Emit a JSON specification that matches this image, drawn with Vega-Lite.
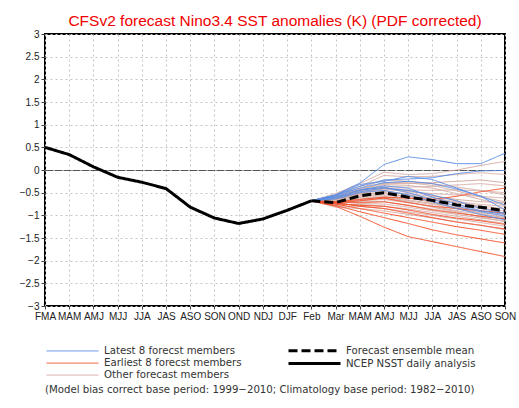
{
  "$schema": "https://vega.github.io/schema/vega-lite/v6.json",
  "width": 460,
  "height": 272,
  "autosize": {"type": "none"},
  "padding": {"left": 45, "top": 34, "right": 14, "bottom": 102},
  "background": "#ffffff",
  "title": {
    "text": "CFSv2 forecast Nino3.4 SST anomalies (K) (PDF corrected)",
    "font": "Liberation Sans",
    "fontSize": 15.5,
    "fontWeight": "normal",
    "color": "#f00000",
    "anchor": "middle",
    "offset": 0
  },
  "config": {
    "view": {"stroke": "#000000", "strokeWidth": 2},
    "axis": {"domain": false, "title": null}
  },
  "datasets": {
    "obs": [
      {"g":"N","s":0,"m":0,"v":0.50},{"g":"N","s":0,"m":1,"v":0.34},{"g":"N","s":0,"m":2,"v":0.07},{"g":"N","s":0,"m":3,"v":-0.16},
      {"g":"N","s":0,"m":4,"v":-0.27},{"g":"N","s":0,"m":5,"v":-0.41},{"g":"N","s":0,"m":6,"v":-0.82},{"g":"N","s":0,"m":7,"v":-1.06},
      {"g":"N","s":0,"m":8,"v":-1.18},{"g":"N","s":0,"m":9,"v":-1.08},{"g":"N","s":0,"m":10,"v":-0.89},{"g":"N","s":0,"m":11,"v":-0.68}
    ],
    "mean": [
      {"g":"M","s":0,"m":11,"v":-0.68},{"g":"M","s":0,"m":12,"v":-0.72},{"g":"M","s":0,"m":13,"v":-0.57},{"g":"M","s":0,"m":14,"v":-0.50},
      {"g":"M","s":0,"m":15,"v":-0.60},{"g":"M","s":0,"m":16,"v":-0.67},{"g":"M","s":0,"m":17,"v":-0.77},{"g":"M","s":0,"m":18,"v":-0.82},{"g":"M","s":0,"m":19,"v":-0.90}
    ],
    "lat": [
      {"g":"L","s":1,"m":11,"v":-0.68},{"g":"L","s":1,"m":12,"v":-0.55},{"g":"L","s":1,"m":13,"v":-0.29},{"g":"L","s":1,"m":14,"v":0.12},{"g":"L","s":1,"m":15,"v":0.29},{"g":"L","s":1,"m":16,"v":0.23},{"g":"L","s":1,"m":17,"v":0.14},{"g":"L","s":1,"m":18,"v":0.14},{"g":"L","s":1,"m":19,"v":0.37},
      {"g":"L","s":2,"m":11,"v":-0.68},{"g":"L","s":2,"m":12,"v":-0.56},{"g":"L","s":2,"m":13,"v":-0.36},{"g":"L","s":2,"m":14,"v":-0.22},{"g":"L","s":2,"m":15,"v":-0.20},{"g":"L","s":2,"m":16,"v":-0.17},{"g":"L","s":2,"m":17,"v":-0.08},{"g":"L","s":2,"m":18,"v":-0.02},{"g":"L","s":2,"m":19,"v":-0.01},
      {"g":"L","s":3,"m":11,"v":-0.68},{"g":"L","s":3,"m":12,"v":-0.55},{"g":"L","s":3,"m":13,"v":-0.32},{"g":"L","s":3,"m":14,"v":-0.25},{"g":"L","s":3,"m":15,"v":-0.14},{"g":"L","s":3,"m":16,"v":-0.21},{"g":"L","s":3,"m":17,"v":-0.40},{"g":"L","s":3,"m":18,"v":-0.58},{"g":"L","s":3,"m":19,"v":-0.77},
      {"g":"L","s":4,"m":11,"v":-0.68},{"g":"L","s":4,"m":12,"v":-0.56},{"g":"L","s":4,"m":13,"v":-0.40},{"g":"L","s":4,"m":14,"v":-0.28},{"g":"L","s":4,"m":15,"v":-0.25},{"g":"L","s":4,"m":16,"v":-0.30},{"g":"L","s":4,"m":17,"v":-0.42},{"g":"L","s":4,"m":18,"v":-0.58},{"g":"L","s":4,"m":19,"v":-0.88},
      {"g":"L","s":5,"m":11,"v":-0.68},{"g":"L","s":5,"m":12,"v":-0.62},{"g":"L","s":5,"m":13,"v":-0.48},{"g":"L","s":5,"m":14,"v":-0.40},{"g":"L","s":5,"m":15,"v":-0.45},{"g":"L","s":5,"m":16,"v":-0.55},{"g":"L","s":5,"m":17,"v":-0.68},{"g":"L","s":5,"m":18,"v":-0.85},{"g":"L","s":5,"m":19,"v":-0.95},
      {"g":"L","s":6,"m":11,"v":-0.68},{"g":"L","s":6,"m":12,"v":-0.60},{"g":"L","s":6,"m":13,"v":-0.45},{"g":"L","s":6,"m":14,"v":-0.38},{"g":"L","s":6,"m":15,"v":-0.50},{"g":"L","s":6,"m":16,"v":-0.65},{"g":"L","s":6,"m":17,"v":-0.80},{"g":"L","s":6,"m":18,"v":-0.92},{"g":"L","s":6,"m":19,"v":-1.02},
      {"g":"L","s":7,"m":11,"v":-0.68},{"g":"L","s":7,"m":12,"v":-0.64},{"g":"L","s":7,"m":13,"v":-0.50},{"g":"L","s":7,"m":14,"v":-0.45},{"g":"L","s":7,"m":15,"v":-0.55},{"g":"L","s":7,"m":16,"v":-0.70},{"g":"L","s":7,"m":17,"v":-0.85},{"g":"L","s":7,"m":18,"v":-0.98},{"g":"L","s":7,"m":19,"v":-1.10},
      {"g":"L","s":8,"m":11,"v":-0.68},{"g":"L","s":8,"m":12,"v":-0.58},{"g":"L","s":8,"m":13,"v":-0.44},{"g":"L","s":8,"m":14,"v":-0.35},{"g":"L","s":8,"m":15,"v":-0.40},{"g":"L","s":8,"m":16,"v":-0.60},{"g":"L","s":8,"m":17,"v":-0.75},{"g":"L","s":8,"m":18,"v":-0.90},{"g":"L","s":8,"m":19,"v":-0.98}
    ],
    "ear": [
      {"g":"E","s":1,"m":11,"v":-0.68},{"g":"E","s":1,"m":12,"v":-0.80},{"g":"E","s":1,"m":13,"v":-1.02},{"g":"E","s":1,"m":14,"v":-1.26},{"g":"E","s":1,"m":15,"v":-1.47},{"g":"E","s":1,"m":16,"v":-1.58},{"g":"E","s":1,"m":17,"v":-1.69},{"g":"E","s":1,"m":18,"v":-1.80},{"g":"E","s":1,"m":19,"v":-1.91},
      {"g":"E","s":2,"m":11,"v":-0.68},{"g":"E","s":2,"m":12,"v":-0.78},{"g":"E","s":2,"m":13,"v":-0.92},{"g":"E","s":2,"m":14,"v":-1.05},{"g":"E","s":2,"m":15,"v":-1.18},{"g":"E","s":2,"m":16,"v":-1.32},{"g":"E","s":2,"m":17,"v":-1.43},{"g":"E","s":2,"m":18,"v":-1.52},{"g":"E","s":2,"m":19,"v":-1.61},
      {"g":"E","s":3,"m":11,"v":-0.68},{"g":"E","s":3,"m":12,"v":-0.75},{"g":"E","s":3,"m":13,"v":-0.85},{"g":"E","s":3,"m":14,"v":-0.95},{"g":"E","s":3,"m":15,"v":-1.05},{"g":"E","s":3,"m":16,"v":-1.15},{"g":"E","s":3,"m":17,"v":-1.25},{"g":"E","s":3,"m":18,"v":-1.33},{"g":"E","s":3,"m":19,"v":-1.42},
      {"g":"E","s":4,"m":11,"v":-0.68},{"g":"E","s":4,"m":12,"v":-0.72},{"g":"E","s":4,"m":13,"v":-0.80},{"g":"E","s":4,"m":14,"v":-0.85},{"g":"E","s":4,"m":15,"v":-0.95},{"g":"E","s":4,"m":16,"v":-1.05},{"g":"E","s":4,"m":17,"v":-1.15},{"g":"E","s":4,"m":18,"v":-1.22},{"g":"E","s":4,"m":19,"v":-1.30},
      {"g":"E","s":5,"m":11,"v":-0.68},{"g":"E","s":5,"m":12,"v":-0.74},{"g":"E","s":5,"m":13,"v":-0.78},{"g":"E","s":5,"m":14,"v":-0.80},{"g":"E","s":5,"m":15,"v":-0.88},{"g":"E","s":5,"m":16,"v":-0.98},{"g":"E","s":5,"m":17,"v":-1.06},{"g":"E","s":5,"m":18,"v":-1.12},{"g":"E","s":5,"m":19,"v":-1.20},
      {"g":"E","s":6,"m":11,"v":-0.68},{"g":"E","s":6,"m":12,"v":-0.70},{"g":"E","s":6,"m":13,"v":-0.72},{"g":"E","s":6,"m":14,"v":-0.70},{"g":"E","s":6,"m":15,"v":-0.78},{"g":"E","s":6,"m":16,"v":-0.88},{"g":"E","s":6,"m":17,"v":-0.95},{"g":"E","s":6,"m":18,"v":-1.02},{"g":"E","s":6,"m":19,"v":-1.08},
      {"g":"E","s":7,"m":11,"v":-0.68},{"g":"E","s":7,"m":12,"v":-0.72},{"g":"E","s":7,"m":13,"v":-0.68},{"g":"E","s":7,"m":14,"v":-0.62},{"g":"E","s":7,"m":15,"v":-0.72},{"g":"E","s":7,"m":16,"v":-0.80},{"g":"E","s":7,"m":17,"v":-0.85},{"g":"E","s":7,"m":18,"v":-0.90},{"g":"E","s":7,"m":19,"v":-0.95},
      {"g":"E","s":8,"m":11,"v":-0.68},{"g":"E","s":8,"m":12,"v":-0.70},{"g":"E","s":8,"m":13,"v":-0.65},{"g":"E","s":8,"m":14,"v":-0.60},{"g":"E","s":8,"m":15,"v":-0.62},{"g":"E","s":8,"m":16,"v":-0.65},{"g":"E","s":8,"m":17,"v":-0.58},{"g":"E","s":8,"m":18,"v":-0.48},{"g":"E","s":8,"m":19,"v":-0.40}
    ],
    "oth": [
      {"g":"O","s":1,"m":11,"v":-0.68},{"g":"O","s":1,"m":12,"v":-0.52},{"g":"O","s":1,"m":13,"v":-0.30},{"g":"O","s":1,"m":14,"v":-0.05},{"g":"O","s":1,"m":15,"v":-0.10},{"g":"O","s":1,"m":16,"v":-0.08},{"g":"O","s":1,"m":17,"v":0.00},{"g":"O","s":1,"m":18,"v":0.10},{"g":"O","s":1,"m":19,"v":0.19},
      {"g":"O","s":2,"m":11,"v":-0.68},{"g":"O","s":2,"m":12,"v":-0.55},{"g":"O","s":2,"m":13,"v":-0.36},{"g":"O","s":2,"m":14,"v":-0.12},{"g":"O","s":2,"m":15,"v":-0.15},{"g":"O","s":2,"m":16,"v":-0.14},{"g":"O","s":2,"m":17,"v":-0.10},{"g":"O","s":2,"m":18,"v":-0.06},{"g":"O","s":2,"m":19,"v":-0.10},
      {"g":"O","s":3,"m":11,"v":-0.68},{"g":"O","s":3,"m":12,"v":-0.60},{"g":"O","s":3,"m":13,"v":-0.42},{"g":"O","s":3,"m":14,"v":-0.30},{"g":"O","s":3,"m":15,"v":-0.30},{"g":"O","s":3,"m":16,"v":-0.28},{"g":"O","s":3,"m":17,"v":-0.25},{"g":"O","s":3,"m":18,"v":-0.22},{"g":"O","s":3,"m":19,"v":-0.28},
      {"g":"O","s":4,"m":11,"v":-0.68},{"g":"O","s":4,"m":12,"v":-0.62},{"g":"O","s":4,"m":13,"v":-0.45},{"g":"O","s":4,"m":14,"v":-0.35},{"g":"O","s":4,"m":15,"v":-0.38},{"g":"O","s":4,"m":16,"v":-0.36},{"g":"O","s":4,"m":17,"v":-0.33},{"g":"O","s":4,"m":18,"v":-0.30},{"g":"O","s":4,"m":19,"v":-0.35},
      {"g":"O","s":5,"m":11,"v":-0.68},{"g":"O","s":5,"m":12,"v":-0.64},{"g":"O","s":5,"m":13,"v":-0.48},{"g":"O","s":5,"m":14,"v":-0.38},{"g":"O","s":5,"m":15,"v":-0.44},{"g":"O","s":5,"m":16,"v":-0.45},{"g":"O","s":5,"m":17,"v":-0.44},{"g":"O","s":5,"m":18,"v":-0.46},{"g":"O","s":5,"m":19,"v":-0.50},
      {"g":"O","s":6,"m":11,"v":-0.68},{"g":"O","s":6,"m":12,"v":-0.66},{"g":"O","s":6,"m":13,"v":-0.50},{"g":"O","s":6,"m":14,"v":-0.42},{"g":"O","s":6,"m":15,"v":-0.48},{"g":"O","s":6,"m":16,"v":-0.52},{"g":"O","s":6,"m":17,"v":-0.55},{"g":"O","s":6,"m":18,"v":-0.58},{"g":"O","s":6,"m":19,"v":-0.62},
      {"g":"O","s":7,"m":11,"v":-0.68},{"g":"O","s":7,"m":12,"v":-0.68},{"g":"O","s":7,"m":13,"v":-0.55},{"g":"O","s":7,"m":14,"v":-0.48},{"g":"O","s":7,"m":15,"v":-0.52},{"g":"O","s":7,"m":16,"v":-0.58},{"g":"O","s":7,"m":17,"v":-0.65},{"g":"O","s":7,"m":18,"v":-0.70},{"g":"O","s":7,"m":19,"v":-0.72},
      {"g":"O","s":8,"m":11,"v":-0.68},{"g":"O","s":8,"m":12,"v":-0.65},{"g":"O","s":8,"m":13,"v":-0.52},{"g":"O","s":8,"m":14,"v":-0.45},{"g":"O","s":8,"m":15,"v":-0.55},{"g":"O","s":8,"m":16,"v":-0.62},{"g":"O","s":8,"m":17,"v":-0.70},{"g":"O","s":8,"m":18,"v":-0.76},{"g":"O","s":8,"m":19,"v":-0.80},
      {"g":"O","s":9,"m":11,"v":-0.68},{"g":"O","s":9,"m":12,"v":-0.70},{"g":"O","s":9,"m":13,"v":-0.58},{"g":"O","s":9,"m":14,"v":-0.52},{"g":"O","s":9,"m":15,"v":-0.58},{"g":"O","s":9,"m":16,"v":-0.66},{"g":"O","s":9,"m":17,"v":-0.72},{"g":"O","s":9,"m":18,"v":-0.80},{"g":"O","s":9,"m":19,"v":-0.85},
      {"g":"O","s":10,"m":11,"v":-0.68},{"g":"O","s":10,"m":12,"v":-0.72},{"g":"O","s":10,"m":13,"v":-0.60},{"g":"O","s":10,"m":14,"v":-0.55},{"g":"O","s":10,"m":15,"v":-0.62},{"g":"O","s":10,"m":16,"v":-0.70},{"g":"O","s":10,"m":17,"v":-0.78},{"g":"O","s":10,"m":18,"v":-0.85},{"g":"O","s":10,"m":19,"v":-0.90},
      {"g":"O","s":11,"m":11,"v":-0.68},{"g":"O","s":11,"m":12,"v":-0.74},{"g":"O","s":11,"m":13,"v":-0.62},{"g":"O","s":11,"m":14,"v":-0.58},{"g":"O","s":11,"m":15,"v":-0.66},{"g":"O","s":11,"m":16,"v":-0.74},{"g":"O","s":11,"m":17,"v":-0.82},{"g":"O","s":11,"m":18,"v":-0.90},{"g":"O","s":11,"m":19,"v":-0.95},
      {"g":"O","s":12,"m":11,"v":-0.68},{"g":"O","s":12,"m":12,"v":-0.70},{"g":"O","s":12,"m":13,"v":-0.64},{"g":"O","s":12,"m":14,"v":-0.60},{"g":"O","s":12,"m":15,"v":-0.68},{"g":"O","s":12,"m":16,"v":-0.76},{"g":"O","s":12,"m":17,"v":-0.86},{"g":"O","s":12,"m":18,"v":-0.94},{"g":"O","s":12,"m":19,"v":-1.00},
      {"g":"O","s":13,"m":11,"v":-0.68},{"g":"O","s":13,"m":12,"v":-0.76},{"g":"O","s":13,"m":13,"v":-0.68},{"g":"O","s":13,"m":14,"v":-0.65},{"g":"O","s":13,"m":15,"v":-0.72},{"g":"O","s":13,"m":16,"v":-0.80},{"g":"O","s":13,"m":17,"v":-0.90},{"g":"O","s":13,"m":18,"v":-0.98},{"g":"O","s":13,"m":19,"v":-1.04},
      {"g":"O","s":14,"m":11,"v":-0.68},{"g":"O","s":14,"m":12,"v":-0.74},{"g":"O","s":14,"m":13,"v":-0.70},{"g":"O","s":14,"m":14,"v":-0.70},{"g":"O","s":14,"m":15,"v":-0.78},{"g":"O","s":14,"m":16,"v":-0.86},{"g":"O","s":14,"m":17,"v":-0.94},{"g":"O","s":14,"m":18,"v":-1.02},{"g":"O","s":14,"m":19,"v":-1.08},
      {"g":"O","s":15,"m":11,"v":-0.68},{"g":"O","s":15,"m":12,"v":-0.78},{"g":"O","s":15,"m":13,"v":-0.74},{"g":"O","s":15,"m":14,"v":-0.75},{"g":"O","s":15,"m":15,"v":-0.82},{"g":"O","s":15,"m":16,"v":-0.90},{"g":"O","s":15,"m":17,"v":-0.98},{"g":"O","s":15,"m":18,"v":-1.06},{"g":"O","s":15,"m":19,"v":-1.12},
      {"g":"O","s":16,"m":11,"v":-0.68},{"g":"O","s":16,"m":12,"v":-0.76},{"g":"O","s":16,"m":13,"v":-0.76},{"g":"O","s":16,"m":14,"v":-0.80},{"g":"O","s":16,"m":15,"v":-0.86},{"g":"O","s":16,"m":16,"v":-0.94},{"g":"O","s":16,"m":17,"v":-1.02},{"g":"O","s":16,"m":18,"v":-1.10},{"g":"O","s":16,"m":19,"v":-1.18},
      {"g":"O","s":17,"m":11,"v":-0.68},{"g":"O","s":17,"m":12,"v":-0.80},{"g":"O","s":17,"m":13,"v":-0.80},{"g":"O","s":17,"m":14,"v":-0.85},{"g":"O","s":17,"m":15,"v":-0.92},{"g":"O","s":17,"m":16,"v":-1.00},{"g":"O","s":17,"m":17,"v":-1.08},{"g":"O","s":17,"m":18,"v":-1.16},{"g":"O","s":17,"m":19,"v":-1.24},
      {"g":"O","s":18,"m":11,"v":-0.68},{"g":"O","s":18,"m":12,"v":-0.82},{"g":"O","s":18,"m":13,"v":-0.85},{"g":"O","s":18,"m":14,"v":-0.90},{"g":"O","s":18,"m":15,"v":-0.98},{"g":"O","s":18,"m":16,"v":-1.06},{"g":"O","s":18,"m":17,"v":-1.14},{"g":"O","s":18,"m":18,"v":-1.22},{"g":"O","s":18,"m":19,"v":-1.32},
      {"g":"O","s":19,"m":11,"v":-0.68},{"g":"O","s":19,"m":12,"v":-0.62},{"g":"O","s":19,"m":13,"v":-0.46},{"g":"O","s":19,"m":14,"v":-0.32},{"g":"O","s":19,"m":15,"v":-0.34},{"g":"O","s":19,"m":16,"v":-0.40},{"g":"O","s":19,"m":17,"v":-0.52},{"g":"O","s":19,"m":18,"v":-0.65},{"g":"O","s":19,"m":19,"v":-0.78},
      {"g":"O","s":20,"m":11,"v":-0.68},{"g":"O","s":20,"m":12,"v":-0.60},{"g":"O","s":20,"m":13,"v":-0.44},{"g":"O","s":20,"m":14,"v":-0.28},{"g":"O","s":20,"m":15,"v":-0.28},{"g":"O","s":20,"m":16,"v":-0.34},{"g":"O","s":20,"m":17,"v":-0.46},{"g":"O","s":20,"m":18,"v":-0.60},{"g":"O","s":20,"m":19,"v":-0.70},
      {"g":"O","s":21,"m":11,"v":-0.68},{"g":"O","s":21,"m":12,"v":-0.66},{"g":"O","s":21,"m":13,"v":-0.52},{"g":"O","s":21,"m":14,"v":-0.40},{"g":"O","s":21,"m":15,"v":-0.46},{"g":"O","s":21,"m":16,"v":-0.56},{"g":"O","s":21,"m":17,"v":-0.68},{"g":"O","s":21,"m":18,"v":-0.82},{"g":"O","s":21,"m":19,"v":-0.96},
      {"g":"O","s":22,"m":11,"v":-0.68},{"g":"O","s":22,"m":12,"v":-0.72},{"g":"O","s":22,"m":13,"v":-0.66},{"g":"O","s":22,"m":14,"v":-0.62},{"g":"O","s":22,"m":15,"v":-0.70},{"g":"O","s":22,"m":16,"v":-0.82},{"g":"O","s":22,"m":17,"v":-0.92},{"g":"O","s":22,"m":18,"v":-1.04},{"g":"O","s":22,"m":19,"v":-1.14},
      {"g":"O","s":23,"m":11,"v":-0.68},{"g":"O","s":23,"m":12,"v":-0.58},{"g":"O","s":23,"m":13,"v":-0.40},{"g":"O","s":23,"m":14,"v":-0.22},{"g":"O","s":23,"m":15,"v":-0.25},{"g":"O","s":23,"m":16,"v":-0.30},{"g":"O","s":23,"m":17,"v":-0.38},{"g":"O","s":23,"m":18,"v":-0.45},{"g":"O","s":23,"m":19,"v":-0.55},
      {"g":"O","s":24,"m":11,"v":-0.68},{"g":"O","s":24,"m":12,"v":-0.64},{"g":"O","s":24,"m":13,"v":-0.54},{"g":"O","s":24,"m":14,"v":-0.50},{"g":"O","s":24,"m":15,"v":-0.60},{"g":"O","s":24,"m":16,"v":-0.72},{"g":"O","s":24,"m":17,"v":-0.84},{"g":"O","s":24,"m":18,"v":-0.96},{"g":"O","s":24,"m":19,"v":-1.06}
    ]
  },
  "encoding": {
    "x": {
      "field": "m", "type": "quantitative",
      "scale": {"domain": [0, 19], "nice": false, "zero": false},
      "axis": {
        "values": [0,1,2,3,4,5,6,7,8,9,10,11,12,13,14,15,16,17,18,19],
        "labelExpr": "['FMA','MAM','AMJ','MJJ','JJA','JAS','ASO','SON','OND','NDJ','DJF','Feb','Mar','MAM','AMJ','MJJ','JJA','JAS','ASO','SON'][datum.value]",
        "labelFont": "Liberation Sans Narrow, Liberation Sans",
        "labelFontSize": 10,
        "labelColor": "#222222",
        "labelPadding": 2,
        "labelFlush": false,
        "labelOverlap": false,
        "tickSize": 3,
        "tickColor": "#444444",
        "grid": true,
        "gridColor": "#c4c4c4",
        "gridDash": [2, 3],
        "gridWidth": 1
      }
    },
    "y": {
      "field": "v", "type": "quantitative",
      "scale": {"domain": [-3, 3], "nice": false},
      "axis": {
        "values": [-3,-2.5,-2,-1.5,-1,-0.5,0,0.5,1,1.5,2,2.5,3],
        "format": "~g",
        "labelFont": "Liberation Sans",
        "labelFontSize": 10,
        "labelColor": "#222222",
        "labelPadding": 2,
        "labelFlush": false,
        "labelOverlap": false,
        "tickSize": 4,
        "tickColor": "#444444",
        "grid": true,
        "gridColor": {"condition": {"test": "datum.value === 0", "value": "#555555"}, "value": "#c4c4c4"},
        "gridDash": {"condition": {"test": "datum.value === 0", "value": [8, 1]}, "value": [2, 3]},
        "gridWidth": 1
      }
    },
    "detail": {"field": "s", "type": "nominal"},
    "color": {
      "field": "g", "type": "nominal",
      "scale": {"domain": ["L","E","O","M","N"], "range": ["#5b8ee6","#f5502a","#d6aca4","#000000","#000000"]},
      "legend": {
        "orient": "none",
        "legendX": 0,
        "legendY": 311,
        "direction": "vertical",
        "columns": 2,
        "columnPadding": 40,
        "rowPadding": 0,
        "symbolType": "M-1,0H12",
        "symbolSize": 64,
        "symbolStrokeWidth": 1.5,
        "labelOffset": 48,
        "labelFont": "DejaVu Sans",
        "labelFontSize": 10.2,
        "labelColor": "#333333",
        "labelExpr": "{'L':'Latest 8 forecst members','M':'Forecast ensemble mean','E':'Earliest 8 forecst members','N':'NCEP NSST daily analysis','O':'Other forecast members'}[datum.label]",
        "title": "(Model bias correct base period: 1999−2010; Climatology base period: 1982−2010)",
        "titleOrient": "bottom",
        "titleAnchor": "start",
        "titleFont": "DejaVu Sans",
        "titleFontSize": 10.2,
        "titleFontWeight": "normal",
        "titleColor": "#333333",
        "titlePadding": 5,
        "titleLimit": 500
      }
    },
    "strokeDash": {
      "field": "g", "type": "nominal",
      "scale": {"type": "ordinal", "domain": ["L","E","O","M","N"], "range": [[1,0],[1,0],[1,0],[9,4],[1,0]]},
      "legend": {
        "title": "(Model bias correct base period: 1999−2010; Climatology base period: 1982−2010)"
      }
    },
    "strokeWidth": {
      "field": "g", "type": "nominal",
      "scale": {"type": "ordinal", "domain": ["L","E","O","M","N"], "range": [1,1,1,3,3]},
      "legend": {
        "title": "(Model bias correct base period: 1999−2010; Climatology base period: 1982−2010)"
      }
    }
  },
  "layer": [
    {"data": {"name": "oth"}, "mark": {"type": "line", "clip": true}},
    {"data": {"name": "ear"}, "mark": {"type": "line", "clip": true}},
    {"data": {"name": "lat"}, "mark": {"type": "line", "clip": true}},
    {"data": {"name": "obs"}, "mark": {"type": "line", "clip": true}},
    {"data": {"name": "mean"}, "mark": {"type": "line", "clip": true}}
  ]
}
